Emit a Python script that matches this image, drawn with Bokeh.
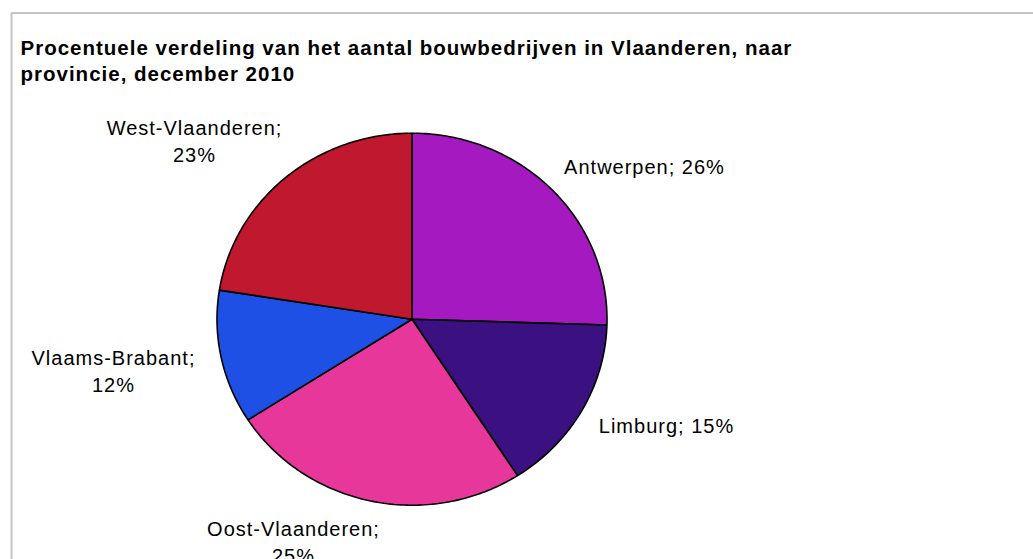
import math
from bokeh.plotting import figure
from bokeh.models import Range1d, Label, BoxAnnotation, ColumnDataSource
from bokeh.embed import file_html
from bokeh.resources import INLINE

# ---- data ----
provinces = ["Antwerpen", "Limburg", "Oost-Vlaanderen", "Vlaams-Brabant", "West-Vlaanderen"]
shares = [25.5, 15.4, 25.0, 11.6, 22.5]          # drawn share (%)
share_labels = ["26%", "15%", "25%", "12%", "23%"]  # label text as printed
colors = ["#A41AC0", "#3B1080", "#E8379A", "#1E50E6", "#C0182F"]
title_lines = ["Procentuele verdeling van het aantal bouwbedrijven in Vlaanderen, naar",
               "provincie, december 2010"]

# ---- layout (picture pixels) ----
W, H = 1033, 559
SPACING = 1.0
cx_pic, cy_pic = 411.5, 318.7
rx_px, ry_px = 195.0, 186.0

x_range = Range1d(-cx_pic / rx_px, (W - cx_pic) / rx_px)
y_range = Range1d(-(H - cy_pic) / ry_px, cy_pic / ry_px)

p = figure(width=W, height=H, x_range=x_range, y_range=y_range,
           output_backend="svg", toolbar_location=None,
           min_border=0, outline_line_color=None)
p.axis.visible = False
p.grid.visible = False
p.background_fill_color = "white"
p.border_fill_color = "white"
p.styles = {"letter-spacing": f"{SPACING}px"}

# pie slices (unit circle in data space; scales make it slightly elliptical)
xs, ys = [], []
start = 90.0
for s in shares:
    end = start - s * 3.6
    n = max(4, int(abs(end - start)))
    pts_x = [0.0]
    pts_y = [0.0]
    for k in range(n + 1):
        a = math.radians(start + (end - start) * k / n)
        pts_x.append(math.cos(a))
        pts_y.append(math.sin(a))
    xs.append(pts_x)
    ys.append(pts_y)
    start = end

src = ColumnDataSource(dict(xs=xs, ys=ys, color=colors, name=provinces))
p.patches("xs", "ys", source=src, fill_color="color", line_color="black", line_width=1.6)

# frame border (only top and left edges fall inside the picture)
p.add_layout(BoxAnnotation(left=11, right=3000, top=H - 12.5, bottom=-3000,
                           left_units="screen", right_units="screen",
                           top_units="screen", bottom_units="screen",
                           fill_alpha=0, line_color="#3a3a3a", line_width=2))

def sy(yp):
    return H - yp

# title
for i, t in enumerate(title_lines):
    p.add_layout(Label(x=20, y=sy(47 + 26 * i), x_units="screen", y_units="screen",
                       text=t, text_font="Liberation Sans", text_font_style="bold",
                       text_font_size="20.5px", text_color="black",
                       text_baseline="alphabetic", text_align="left"))

# slice labels: (center x, center y of first line, one line?)
label_pos = {
    "Antwerpen": (644, 166, True),
    "Limburg": (666, 425, True),
    "Oost-Vlaanderen": (293, 528, False),
    "Vlaams-Brabant": (113, 357, False),
    "West-Vlaanderen": (194, 127, False),
}
for name, pct in zip(provinces, share_labels):
    x0, y0, single = label_pos[name]
    lines = [f"{name}; {pct}"] if single else [f"{name};", pct]
    for j, line in enumerate(lines):
        shift = -len(line) * SPACING / 2.0   # re-centre the letter-spaced text
        p.add_layout(Label(x=x0 + shift, y=sy(y0 + 27 * j), x_units="screen", y_units="screen",
                           text=line, text_font="Liberation Sans", text_font_size="20px",
                           text_color="black", text_align="center", text_baseline="middle"))

open("out.html", "w").write(file_html(p, INLINE))
